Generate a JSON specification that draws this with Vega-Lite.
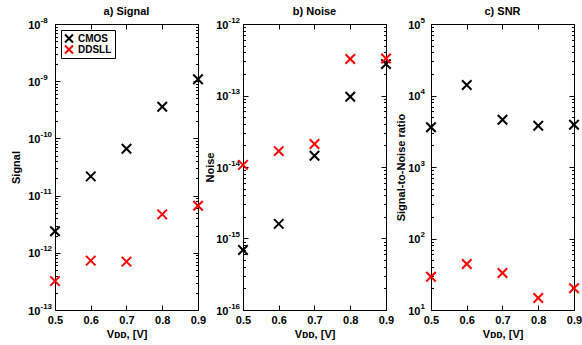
{
  "$schema": "https://vega.github.io/schema/vega-lite/v6.json",
  "padding": {"left": 10, "top": 5, "right": 3, "bottom": 3},
  "datasets": {
    "signal": [
      {"v": 0.5, "tech": "CMOS", "val": 2.38e-12},
      {"v": 0.6, "tech": "CMOS", "val": 2.17e-11},
      {"v": 0.7, "tech": "CMOS", "val": 6.6e-11},
      {"v": 0.8, "tech": "CMOS", "val": 3.58e-10},
      {"v": 0.9, "tech": "CMOS", "val": 1.08e-9},
      {"v": 0.5, "tech": "DDSLL", "val": 3.2e-13},
      {"v": 0.6, "tech": "DDSLL", "val": 7.3e-13},
      {"v": 0.7, "tech": "DDSLL", "val": 7.0e-13},
      {"v": 0.8, "tech": "DDSLL", "val": 4.7e-12},
      {"v": 0.9, "tech": "DDSLL", "val": 6.65e-12}
    ],
    "noise": [
      {"v": 0.5, "tech": "CMOS", "val": 6.9e-16},
      {"v": 0.6, "tech": "CMOS", "val": 1.6e-15},
      {"v": 0.7, "tech": "CMOS", "val": 1.44e-14},
      {"v": 0.8, "tech": "CMOS", "val": 9.6e-14},
      {"v": 0.9, "tech": "CMOS", "val": 2.75e-13},
      {"v": 0.5, "tech": "DDSLL", "val": 1.07e-14},
      {"v": 0.6, "tech": "DDSLL", "val": 1.67e-14},
      {"v": 0.7, "tech": "DDSLL", "val": 2.1e-14},
      {"v": 0.8, "tech": "DDSLL", "val": 3.24e-13},
      {"v": 0.9, "tech": "DDSLL", "val": 3.3e-13}
    ],
    "snr": [
      {"v": 0.5, "tech": "CMOS", "val": 3590},
      {"v": 0.6, "tech": "CMOS", "val": 14000},
      {"v": 0.7, "tech": "CMOS", "val": 4590},
      {"v": 0.8, "tech": "CMOS", "val": 3780},
      {"v": 0.9, "tech": "CMOS", "val": 3900},
      {"v": 0.5, "tech": "DDSLL", "val": 29.2},
      {"v": 0.6, "tech": "DDSLL", "val": 44},
      {"v": 0.7, "tech": "DDSLL", "val": 33},
      {"v": 0.8, "tech": "DDSLL", "val": 14.7},
      {"v": 0.9, "tech": "DDSLL", "val": 20.1}
    ]
  },
  "spacing": 45,
  "bounds": "flush",
  "resolve": {"legend": {"color": "independent"}},
  "hconcat": [
    {
      "width": 143, "height": 286,
      "title": "a) Signal",
      "data": {"name": "signal"},
      "resolve": {"axis": {"x": "independent", "y": "independent"}},
      "layer": [
        {
          "mark": {"type": "point", "shape": "M-1,-1L1,1M-1,1L1,-1", "filled": false, "strokeWidth": 2, "size": 90, "opacity": 1, "clip": false},
          "encoding": {
            "x": {"field": "v", "type": "quantitative", "scale": {"domain": [0.5, 0.9], "zero": false, "nice": false},
              "axis": {"orient": "bottom", "values": [0.5, 0.6, 0.7, 0.8, 0.9], "format": ".1f", "title": "Vᴅᴅ, [V]", "tickSize": -5, "labelPadding": 9, "titlePadding": 3}},
            "y": {"field": "val", "type": "quantitative", "scale": {"type": "log", "domain": [1e-13, 1e-8], "nice": false},
              "axis": {"orient": "left", "title": "Signal", "ticks": false, "labelAlign": "right", "labelBaseline": "middle", "labelPadding": 15, "labelOffset": 1, "titlePadding": 6,
                "values": [1e-13, 1e-12, 1e-11, 1e-10, 1e-9, 1e-8], "labelExpr": "'10'"}},
            "color": {"field": "tech", "type": "nominal", "scale": {"domain": ["CMOS", "DDSLL"], "range": ["#000000", "#ff0000"]},
              "legend": {"title": null, "orient": "top-left", "offset": 6, "strokeColor": "black", "fillColor": "white", "padding": 3, "labelFontSize": 10, "labelFontWeight": "bold", "labelColor": "black", "symbolStrokeWidth": 2, "symbolSize": 64, "rowPadding": 0, "clipHeight": 11, "symbolType": "M-1,-1L1,1M-1,1L1,-1"}}
          }
        },
        {
          "mark": {"type": "point", "opacity": 0},
          "encoding": {
            "x": {"field": "v", "type": "quantitative", "scale": {"domain": [0.5, 0.9], "zero": false, "nice": false},
              "axis": {"orient": "top", "values": [0.5, 0.6, 0.7, 0.8, 0.9], "labels": false, "title": null, "tickSize": -5}},
            "y": {"field": "val", "type": "quantitative", "scale": {"type": "log", "domain": [1e-13, 1e-8], "nice": false},
              "axis": {"orient": "right", "title": null, "labels": false,
                "values": [1e-13,2e-13,3e-13,4e-13,5e-13,6e-13,7e-13,8e-13,9e-13,1e-12,2e-12,3e-12,4e-12,5e-12,6e-12,7e-12,8e-12,9e-12,1e-11,2e-11,3e-11,4e-11,5e-11,6e-11,7e-11,8e-11,9e-11,1e-10,2e-10,3e-10,4e-10,5e-10,6e-10,7e-10,8e-10,9e-10,1e-9,2e-9,3e-9,4e-9,5e-9,6e-9,7e-9,8e-9,9e-9,1e-8],
                "tickSize": {"condition": {"test": "abs(log(datum.value)/LN10 - round(log(datum.value)/LN10)) < 0.001", "value": -5}, "value": -2.5}}}
          }
        },
        {
          "mark": {"type": "point", "opacity": 0},
          "encoding": {
            "x": {"field": "v", "type": "quantitative", "scale": {"domain": [0.5, 0.9], "zero": false, "nice": false}, "axis": null},
            "y": {"field": "val", "type": "quantitative", "scale": {"type": "log", "domain": [1e-13, 1e-8], "nice": false},
              "axis": {"orient": "left", "title": null, "ticks": false, "labelAlign": "left", "labelBaseline": "middle", "labelPadding": 15, "labelOffset": -4, "labelFontSize": 8,
                "values": [1e-13, 1e-12, 1e-11, 1e-10, 1e-9, 1e-8], "labelExpr": "toString(round(log(datum.value)/LN10))"}}
          }
        },
        {
          "mark": {"type": "point", "opacity": 0},
          "encoding": {
            "x": {"field": "v", "type": "quantitative", "scale": {"domain": [0.5, 0.9], "zero": false, "nice": false}, "axis": null},
            "y": {"field": "val", "type": "quantitative", "scale": {"type": "log", "domain": [1e-13, 1e-8], "nice": false},
              "axis": {"orient": "left", "title": null, "labels": false,
                "values": [1e-13,2e-13,3e-13,4e-13,5e-13,6e-13,7e-13,8e-13,9e-13,1e-12,2e-12,3e-12,4e-12,5e-12,6e-12,7e-12,8e-12,9e-12,1e-11,2e-11,3e-11,4e-11,5e-11,6e-11,7e-11,8e-11,9e-11,1e-10,2e-10,3e-10,4e-10,5e-10,6e-10,7e-10,8e-10,9e-10,1e-9,2e-9,3e-9,4e-9,5e-9,6e-9,7e-9,8e-9,9e-9,1e-8],
                "tickSize": {"condition": {"test": "abs(log(datum.value)/LN10 - round(log(datum.value)/LN10)) < 0.001", "value": -5}, "value": -2.5}}}
          }
        }
      ]
    },
    {
      "width": 143, "height": 286,
      "title": "b) Noise",
      "data": {"name": "noise"},
      "resolve": {"axis": {"x": "independent", "y": "independent"}},
      "layer": [
        {
          "mark": {"type": "point", "shape": "M-1,-1L1,1M-1,1L1,-1", "filled": false, "strokeWidth": 2, "size": 90, "opacity": 1, "clip": false},
          "encoding": {
            "x": {"field": "v", "type": "quantitative", "scale": {"domain": [0.5, 0.9], "zero": false, "nice": false},
              "axis": {"orient": "bottom", "values": [0.5, 0.6, 0.7, 0.8, 0.9], "format": ".1f", "title": "Vᴅᴅ, [V]", "tickSize": -5, "labelPadding": 9, "titlePadding": 3}},
            "y": {"field": "val", "type": "quantitative", "scale": {"type": "log", "domain": [1e-16, 1e-12], "nice": false},
              "axis": {"orient": "left", "title": "Noise", "ticks": false, "labelAlign": "right", "labelBaseline": "middle", "labelPadding": 15, "labelOffset": 1, "titlePadding": 0,
                "values": [1e-16, 1e-15, 1e-14, 1e-13, 1e-12], "labelExpr": "'10'"}},
            "color": {"field": "tech", "type": "nominal", "scale": {"domain": ["CMOS", "DDSLL"], "range": ["#000000", "#ff0000"]}, "legend": null}
          }
        },
        {
          "mark": {"type": "point", "opacity": 0},
          "encoding": {
            "x": {"field": "v", "type": "quantitative", "scale": {"domain": [0.5, 0.9], "zero": false, "nice": false},
              "axis": {"orient": "top", "values": [0.5, 0.6, 0.7, 0.8, 0.9], "labels": false, "title": null, "tickSize": -5}},
            "y": {"field": "val", "type": "quantitative", "scale": {"type": "log", "domain": [1e-16, 1e-12], "nice": false},
              "axis": {"orient": "right", "title": null, "labels": false,
                "values": [1e-16,2e-16,3e-16,4e-16,5e-16,6e-16,7e-16,8e-16,9e-16,1e-15,2e-15,3e-15,4e-15,5e-15,6e-15,7e-15,8e-15,9e-15,1e-14,2e-14,3e-14,4e-14,5e-14,6e-14,7e-14,8e-14,9e-14,1e-13,2e-13,3e-13,4e-13,5e-13,6e-13,7e-13,8e-13,9e-13,1e-12],
                "tickSize": {"condition": {"test": "abs(log(datum.value)/LN10 - round(log(datum.value)/LN10)) < 0.001", "value": -5}, "value": -2.5}}}
          }
        },
        {
          "mark": {"type": "point", "opacity": 0},
          "encoding": {
            "x": {"field": "v", "type": "quantitative", "scale": {"domain": [0.5, 0.9], "zero": false, "nice": false}, "axis": null},
            "y": {"field": "val", "type": "quantitative", "scale": {"type": "log", "domain": [1e-16, 1e-12], "nice": false},
              "axis": {"orient": "left", "title": null, "ticks": false, "labelAlign": "left", "labelBaseline": "middle", "labelPadding": 15, "labelOffset": -4, "labelFontSize": 8,
                "values": [1e-16, 1e-15, 1e-14, 1e-13, 1e-12], "labelExpr": "toString(round(log(datum.value)/LN10))"}}
          }
        },
        {
          "mark": {"type": "point", "opacity": 0},
          "encoding": {
            "x": {"field": "v", "type": "quantitative", "scale": {"domain": [0.5, 0.9], "zero": false, "nice": false}, "axis": null},
            "y": {"field": "val", "type": "quantitative", "scale": {"type": "log", "domain": [1e-16, 1e-12], "nice": false},
              "axis": {"orient": "left", "title": null, "labels": false,
                "values": [1e-16,2e-16,3e-16,4e-16,5e-16,6e-16,7e-16,8e-16,9e-16,1e-15,2e-15,3e-15,4e-15,5e-15,6e-15,7e-15,8e-15,9e-15,1e-14,2e-14,3e-14,4e-14,5e-14,6e-14,7e-14,8e-14,9e-14,1e-13,2e-13,3e-13,4e-13,5e-13,6e-13,7e-13,8e-13,9e-13,1e-12],
                "tickSize": {"condition": {"test": "abs(log(datum.value)/LN10 - round(log(datum.value)/LN10)) < 0.001", "value": -5}, "value": -2.5}}}
          }
        }
      ]
    },
    {
      "width": 143, "height": 286,
      "title": "c) SNR",
      "data": {"name": "snr"},
      "resolve": {"axis": {"x": "independent", "y": "independent"}},
      "layer": [
        {
          "mark": {"type": "point", "shape": "M-1,-1L1,1M-1,1L1,-1", "filled": false, "strokeWidth": 2, "size": 90, "opacity": 1, "clip": false},
          "encoding": {
            "x": {"field": "v", "type": "quantitative", "scale": {"domain": [0.5, 0.9], "zero": false, "nice": false},
              "axis": {"orient": "bottom", "values": [0.5, 0.6, 0.7, 0.8, 0.9], "format": ".1f", "title": "Vᴅᴅ, [V]", "tickSize": -5, "labelPadding": 9, "titlePadding": 3}},
            "y": {"field": "val", "type": "quantitative", "scale": {"type": "log", "domain": [10, 100000], "nice": false},
              "axis": {"orient": "left", "title": "Signal-to-Noise ratio", "ticks": false, "labelAlign": "right", "labelBaseline": "middle", "labelPadding": 11, "labelOffset": 1, "titlePadding": 1,
                "values": [10, 100, 1000, 10000, 100000], "labelExpr": "'10'"}},
            "color": {"field": "tech", "type": "nominal", "scale": {"domain": ["CMOS", "DDSLL"], "range": ["#000000", "#ff0000"]}, "legend": null}
          }
        },
        {
          "mark": {"type": "point", "opacity": 0},
          "encoding": {
            "x": {"field": "v", "type": "quantitative", "scale": {"domain": [0.5, 0.9], "zero": false, "nice": false},
              "axis": {"orient": "top", "values": [0.5, 0.6, 0.7, 0.8, 0.9], "labels": false, "title": null, "tickSize": -5}},
            "y": {"field": "val", "type": "quantitative", "scale": {"type": "log", "domain": [10, 100000], "nice": false},
              "axis": {"orient": "right", "title": null, "labels": false,
                "values": [10,20,30,40,50,60,70,80,90,100,200,300,400,500,600,700,800,900,1000,2000,3000,4000,5000,6000,7000,8000,9000,10000,20000,30000,40000,50000,60000,70000,80000,90000,100000],
                "tickSize": {"condition": {"test": "abs(log(datum.value)/LN10 - round(log(datum.value)/LN10)) < 0.001", "value": -5}, "value": -2.5}}}
          }
        },
        {
          "mark": {"type": "point", "opacity": 0},
          "encoding": {
            "x": {"field": "v", "type": "quantitative", "scale": {"domain": [0.5, 0.9], "zero": false, "nice": false}, "axis": null},
            "y": {"field": "val", "type": "quantitative", "scale": {"type": "log", "domain": [10, 100000], "nice": false},
              "axis": {"orient": "left", "title": null, "ticks": false, "labelAlign": "left", "labelBaseline": "middle", "labelPadding": 11, "labelOffset": -4, "labelFontSize": 8,
                "values": [10, 100, 1000, 10000, 100000], "labelExpr": "toString(round(log(datum.value)/LN10))"}}
          }
        },
        {
          "mark": {"type": "point", "opacity": 0},
          "encoding": {
            "x": {"field": "v", "type": "quantitative", "scale": {"domain": [0.5, 0.9], "zero": false, "nice": false}, "axis": null},
            "y": {"field": "val", "type": "quantitative", "scale": {"type": "log", "domain": [10, 100000], "nice": false},
              "axis": {"orient": "left", "title": null, "labels": false,
                "values": [10,20,30,40,50,60,70,80,90,100,200,300,400,500,600,700,800,900,1000,2000,3000,4000,5000,6000,7000,8000,9000,10000,20000,30000,40000,50000,60000,70000,80000,90000,100000],
                "tickSize": {"condition": {"test": "abs(log(datum.value)/LN10 - round(log(datum.value)/LN10)) < 0.001", "value": -5}, "value": -2.5}}}
          }
        }
      ]
    }
  ],
  "config": {
    "font": "Liberation Sans",
    "view": {"stroke": "black", "strokeWidth": 1},
    "title": {"fontSize": 11, "fontWeight": "bold", "color": "black", "offset": -1, "font": "Liberation Sans"},
    "axis": {
      "domain": false, "grid": false, "tickColor": "black", "tickWidth": 1,
      "labelFont": "Liberation Sans", "labelFontWeight": "bold", "labelFontSize": 11, "labelColor": "black",
      "titleFont": "Liberation Sans", "titleFontWeight": "bold", "titleFontSize": 11, "titleColor": "black",
      "labelOverlap": false, "labelBound": false, "labelFlush": false
    },
    "legend": {"labelFont": "Liberation Sans"}
  }
}
